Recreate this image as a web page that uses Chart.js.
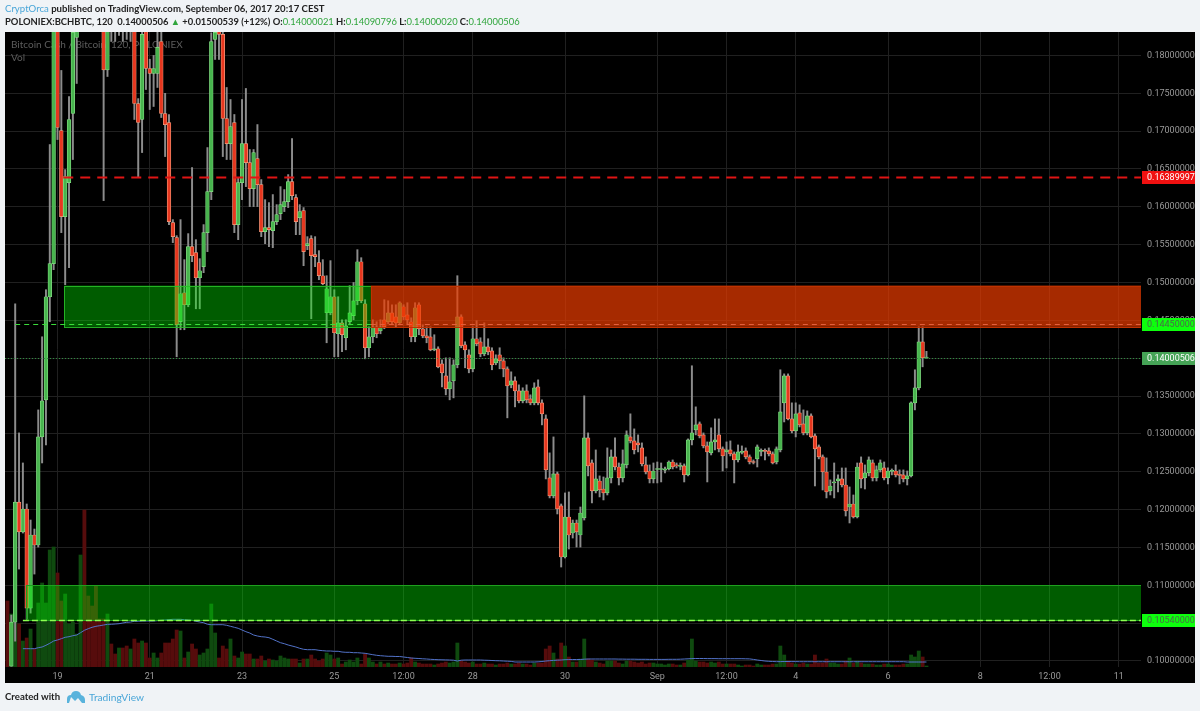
<!DOCTYPE html>
<html><head><meta charset="utf-8">
<style>
html,body{margin:0;padding:0;background:#f0f3f6;width:1200px;height:711px;overflow:hidden}
canvas{position:absolute;left:0;top:0}
.t{position:absolute;white-space:pre;font-family:Lato,sans-serif;color:#222}
.b{color:#4aa6d8}.g{color:#2fa53c}
</style></head><body>
<canvas id="c" width="1200" height="711"></canvas>
<div class="t" style="left:5px;top:1px;font-size:9.6px;line-height:16px;font-weight:700"><span class="b" style="font-weight:400">CryptOrca</span> published on TradingView.com, September 06, 2017 20:17 CEST</div>
<div class="t" style="left:5px;top:14px;font-size:9.4px;line-height:16px;font-weight:700">POLONIEX:BCHBTC, 120  0.14000506 <span class="g">▲</span> +0.01500539 (+12%) O:<span class="g" style="font-weight:400">0.14000021</span> H:<span class="g" style="font-weight:400">0.14090796</span> L:<span class="g" style="font-weight:400">0.14000020</span> C:<span class="g" style="font-weight:400">0.14000506</span></div>
<div class="t" style="left:5px;top:689px;font-size:9.6px;line-height:16px;font-weight:700">Created with</div>
<svg style="position:absolute;left:66px;top:690px" width="20" height="14" viewBox="0 0 20 14"><path d="M1 13 L1 9 Q1 5 5 5 Q6 1 10 1 Q14 1 15 5 Q19 6 19 10 L19 13 L16 13 L12 8 L9 11 L5 7 L3 13 Z" fill="#59b3dc"/></svg>
<div class="t b" style="left:89px;top:689px;font-size:10.2px;line-height:16px">TradingView</div>
<script src="https://cdn.jsdelivr.net/npm/chart.js@4"></script>
<script>
// Candle index 0 = 19 Aug 00:00, one candle per 2 hours. Prices in thousandths of BTC.
const firstIndex=-13;
const opens=[null,99.3,105.13,121,117.04,120.08,106.98,116.64,115.32,129.6,134.5,148.12,152.49,
184.5,170.08,158.7,163.2,172.33,182.38,184.1,190,187,185,187,190,
187,178.08,188,186,185,188,186,184,
186,173.65,171.54,184,178.28,177.62,177.62,181.85,172.33,171.14,
157.91,155.93,144.82,148.65,147.06,154.74,153.94,150.63,152.09,156.59,
162.01,182.12,184,182.78,171.67,168.36,171.14,157.65,163.2,168.36,
165.85,162.41,166.38,162.94,156.72,157.25,156.86,158.05,159.1,160.03,
160.69,163.33,161.22,158.57,159.5,154.87,155.8,153.68,152.62,150.9,
146,146,148.12,143.23,144.68,142.7,144.82,145.61,147.59,152.75,
147.2,141.38,142.83,144.15,143.62,145.08,144.82,146,145.47,144.68,
146.8,145.74,144.82,142.83,147.06,143.89,142.96,142.83,141.11,141.25,
139.26,137.67,135.95,137.01,139.13,145.47,141.78,140.45,138.6,142.57,
142.17,140.58,141.51,140.98,139.39,140.45,139.66,138.6,136.48,137.01,
135.69,134.37,135.69,134.63,134.1,136.22,134.1,131.98,124.18,121.8,
124.71,120.48,113.73,119.02,116.9,118.23,116.64,118.89,129.47,126.16,
122.46,123.78,122.72,122.2,124.18,126.96,125.63,124.18,125.9,129.6,
129.07,128.81,128.15,125.9,125.1,124.05,125.3,125.3,125.2,125.37,
126.29,125.83,125.7,125.77,124.58,129.21,130.53,131.32,129.87,128.41,
127.49,128.94,129.87,128.02,127.62,127.88,127.35,126.56,127.55,127.75,
126.96,126.29,126.7,127.68,127.75,127.75,127.35,126.29,127.88,134.1,
137.67,131.98,130.4,132.78,131.32,130.13,132.38,129.74,128.28,126.96,
124.97,122.46,123.52,123.78,124.05,123.25,120.34,120.74,119.02,126.16,
124.18,124.84,126.16,124.18,125.24,125.5,124.18,125.04,125.1,124.58,
124.58,124.05,124.45,134.1,136.09,142.17,140.002];
const highs=[null,106.06,147.2,130.13,126.16,120.74,118.62,117.43,133.17,142.83,149.05,168.23,190,
190,178.02,164.92,174.58,190,188,195,196,191,189,190,193,
190,190,190,188,189,190,190,189,
189,174.3,186,186,179.5,180,183.5,185,175,172.2,
158.31,156.19,158.31,153.02,156.46,165.19,155.66,153.15,157.65,167.83,
183,186,186,183.5,175.77,174.18,172.2,163.86,174.18,175.64,
167.57,167.57,170.87,163.6,160.95,160.56,161.62,160.29,162.67,162.28,
164.26,169.02,161.62,160.29,159.9,156.06,156.19,156.06,154.21,153.02,
150.9,152.89,149.05,148.12,145.08,145.08,149.58,150,154.34,153.28,
147.73,144.15,145.08,144.82,145.08,147.73,147.59,147.06,147.06,147.46,
147.06,147.33,145.34,147.33,147.33,144.42,144.15,144.15,143.1,141.51,
139.79,140.05,140.05,139.79,150.9,145.74,142.17,141.11,144.15,144.95,
142.7,144.68,142.57,141.38,140.45,141.38,140.05,138.86,138.2,137.54,
136.48,136.09,136.48,135.16,136.75,137.14,134.5,132.51,127.49,129.6,
124.97,120.74,122.2,122.33,118.62,118.62,120.34,135.03,130.13,126.56,
127.88,124.45,124.31,128.15,127.88,129.47,126.16,127.88,130.4,132.65,
130.66,129.87,128.81,126.96,125.9,126.16,126.29,126.16,125.63,126.43,
126.56,126.16,126.16,126.03,129.34,139,133.57,131.58,130.13,128.94,
130.8,131.98,131.98,128.28,128.94,129.07,127.62,128.54,128.41,128.15,
127.22,126.56,128.54,128.02,128.02,128.15,127.62,128.28,138.47,137.93,
137.93,134.1,134.1,133.84,133.17,133.04,132.65,130,128.54,127.22,
126.83,123.92,126.16,124.58,125.5,125.5,122.99,121.93,126.16,126.96,
125.9,126.96,126.56,125.77,126.56,126.29,125.5,125.37,125.9,125.24,
125.24,125.1,134.23,138.47,144.15,144.15,140.908];
const lows=[null,99.3,102.62,112.14,116.9,105.53,106.32,111.48,115.05,126.16,128.54,144.82,151.69,
168.89,156.59,149.71,151.96,166.25,176.3,184,185,184,184,184,185,
160.82,177.22,181.85,181.85,182.65,181.85,182.12,181.85,
171.54,163.99,167.17,175.5,172.86,173.26,175.77,171.8,166.64,157.65,
155.27,140.19,143.76,143.76,146.8,152.75,146.53,146.53,151.3,154.08,
160.95,179.47,179.47,166.64,166.25,166.25,156.59,155.66,160.95,162.67,
160.03,160.03,160.03,156.06,155.13,154.74,154.6,157.65,158.31,159.37,
159.9,160.95,156.32,156.32,152.22,154.34,145.21,152.09,150.37,149.71,
142.04,145.74,140.19,140.19,140.85,141.11,144.42,145.08,147.06,147.33,
139.92,140.19,142.04,142.7,143.23,143.89,144.55,144.42,144.15,144.42,
145.08,144.42,142.17,142.17,143.1,142.7,142.04,140.98,140.98,138.73,
136.22,135.16,134.5,134.76,138.73,141.38,138.73,138.07,138.2,141.64,
140.19,140.32,140.45,138.47,139.13,138.6,137.54,132.12,136.09,133.57,
134.1,134.1,134.1,133.84,133.84,133.84,131.19,124.05,121.54,121.54,
119.42,112.41,113.6,114.79,116.24,115.05,115.05,118.62,124.45,120.88,
122.2,121.67,121.27,121.93,123.52,125.24,123.25,123.65,125.5,128.81,
127.35,127.62,125.77,124.71,123.52,123.52,123.52,123.65,124.84,125.24,
125.37,125.5,125.24,123.65,124.45,128.54,129.87,129.47,128.15,123.65,
127.22,127.88,127.62,125.1,125.5,127.09,123.52,126.29,127.35,126.7,
126.03,126.03,125.63,127.09,126.56,127.09,126.03,126.03,127.62,131.58,
131.85,130.13,129.6,130.92,129.87,129.87,129.47,123.12,126.7,122.59,
121.54,121.93,121.54,122.33,122.99,119.15,118.23,118.89,118.89,122.86,
122.72,124.45,123.78,123.78,124.97,123.92,123.39,124.58,124.31,123.39,
123.65,123.25,124.31,133.17,135.82,138.86,140];
const closes=[null,105.13,121,117.04,120.08,106.98,116.64,115.32,129.6,134.37,148.12,152.49,184.8,
170.48,158.7,163.99,171.54,183.04,184.1,190,187,185,184.5,184.5,187,
178.08,186,185,185,187,185,184.5,186,
173.65,171.14,182.78,178.28,177.62,178.28,181.06,172.33,170.87,158.05,
156.06,144.42,148.52,147.06,154.74,153.55,150.63,151.56,156.59,162.01,
181.85,183.04,182.78,171.67,168.36,170.61,157.65,163.2,168.36,165.85,
162.41,167.17,162.94,156.72,157.25,156.99,158.05,158.97,160.29,160.69,
163.33,161.48,158.05,159.37,154.08,155.13,153.55,153.41,150.9,149.84,
149.18,148.12,143.36,144.68,143.1,144.29,146,147.59,152.75,147.59,
141.38,142.83,144.15,143.23,144.15,144.15,146,144.82,144.68,147.33,
145.47,145.08,142.83,146.67,143.89,142.96,142.7,141.11,141.25,138.86,
138.07,135.95,136.88,139.13,145.47,141.64,141.11,138.6,142.57,141.91,
140.58,141.51,140.85,139.13,139.92,139.66,138.6,136.35,137.01,135.69,
134.37,135.69,134.5,134.1,136.09,134.1,132.65,125.24,121.8,124.71,
120.08,113.73,119.02,116.64,118.23,117.04,119.55,129.47,125.77,122.46,
124.05,122.59,122.2,124.18,126.96,125.63,124.18,126.03,129.87,129.07,
127.88,128.54,126.03,124.97,124.05,125.1,125.37,125.37,125.37,126.29,
125.63,125.77,125.83,124.58,129.21,130.13,131.19,129.74,128.41,127.62,
128.94,129.21,128.02,127.09,127.88,127.35,126.56,127.62,127.62,126.96,
126.29,126.22,128.28,127.75,127.68,127.35,126.16,128.02,132.91,137.67,
131.98,130.4,132.65,131.19,130.13,132.38,129.6,128.02,126.96,124.97,
122.33,123.12,123.65,124.05,123.25,119.82,120.74,119.02,125.63,124.05,
124.84,126.56,124.18,125.24,126.16,124.18,125.1,125.1,124.58,124.51,
124.05,124.45,134.1,136.09,142.17,140.05,140.005];
const volumes=[66,53,44,43,26,29,38,18,64,84,64,117,120,
94,66,73,43,45,33,112,157,71,61,81,48,
48,53,23,13,19,19,21,18,
28,24,26,24,9,14,9,14,24,24,
28,37,36,9,15,23,18,12,14,18,
63,34,9,21,18,28,11,9,15,13,
13,8,8,11,6,8,7,6,11,9,
8,8,8,4,8,8,12,8,6,8,
14,12,8,9,3,5,7,5,9,3,
13,9,5,3,5,3,4,3,3,4,
3,4,9,5,4,3,3,3,2,3,
4,5,4,5,24,6,5,4,5,3,
3,4,3,3,2,3,3,4,3,3,
4,3,3,2,4,4,4,18,21,14,
8,24,21,10,5,5,8,28,8,7,
5,4,3,6,6,6,4,3,6,6,
5,4,5,3,4,4,3,3,2,3,
3,2,2,4,7,28,6,5,5,4,
5,4,5,3,3,3,3,2,1,2,
2,1,3,2,2,2,3,3,21,12,
6,4,3,3,4,3,3,12,4,4,
8,4,4,3,3,6,9,4,6,4,
3,3,3,2,2,3,3,2,2,2,
3,3,12,10,16,10,1];
const volumeAverage=[null,null,null,null,18.3,18.3,18.3,18.3,19.3,20,21.7,23.7,26,
27,28.3,29.7,30.3,31.3,32,34.3,36.7,38.3,39.7,40.7,41.3,
42,42.7,42.7,43,43.3,44,44.7,45,
45.7,45.7,46,46,46,46,46.3,46.7,47,47.3,
47.7,47.7,47.7,47.3,47,46.7,45.7,45,44.3,42.7,
42.3,42.3,42.3,42.3,41.7,40.7,39.7,38.7,37,35.3,
34,32,31,30.3,30,29.3,27.7,26,24.3,23.3,
22,21,20,18.7,17.7,17.3,17.3,17.3,16.7,16.3,
16,16,15.7,15.7,15,14.7,14.7,14.3,14.3,14,
13.7,13,12.3,11.7,11.3,11,10.7,10.7,10.5,10.5,
10,9.5,9,8.7,8.5,8.2,8,7.7,7.5,7.3,
7.2,7.1,7,6.8,6,6.8,7,7,7,7,
7,6.8,6.7,6.5,6.3,6.2,6,5.8,5.6,5,
5,5,5,5,5,5.2,5.5,6,6.3,6.6,
6.8,7,7.3,7.4,7.5,7.5,7.5,7.8,8,8,
8,8,8,8,8,8,7.9,7.9,7.8,7.8,
7.8,7.7,7.7,7.7,7.6,7.6,7.6,7.6,7.6,7.7,
7.7,7.7,7.8,8,8.2,8.4,8.5,8.5,8.5,8.4,
8.4,8.4,8.3,8.3,8.3,8.3,8.3,8.3,8.3,8.2,
8.1,7.6,7,6.5,6,5.7,5.5,5.3,5.4,5.5,
5.5,5.4,5.4,5.3,5.3,5.3,5.3,5.3,5.3,5.3,
5.3,5.3,5.3,5.3,5.3,5.3,5.3,5.3,5.3,5.3,
5.3,5.3,5.3,5.3,5.3,5.3,5.3,5.3,5.3,5.3,
5.3,5,5,5,5,5,5];
const priceTicks=[100,105,110,115,120,125,130,135,140,145,150,155,160,165,170,175,180];
const timeTickPositions=[0,24,48,72,90,108,132,156,174,192,216,240,258,276];
const timeTickLabels=['19','21','23','25','12:00','28','30','Sep','12:00','4','6','8','12:00','11'];
const levelResist=163.89997, levelPivot=144.5, levelLast=140.00506, levelSupport=105.4;
const zoneUpperTop=149.6, zoneUpperBottom=144.15, zoneLowerTop=110, zoneLowerBottom=105.4;
const zoneSwitchIndex=81.5, zoneUpperStart=1.7, zoneLowerStart=-8.2;
const chartTitle='Bitcoin Cash / Bitcoin, 120, POLONIEX', volumeTitle='Vol';

const idx=opens.map((_,k)=>firstIndex+k);
const up=opens.map((o,k)=>o!==null&&closes[k]>=o);
const has=opens.map(o=>o!==null);
const wicks=idx.map((x,k)=>has[k]?{x,y:[lows[k],highs[k]]}:null).filter(Boolean);
const bodies=(green)=>idx.map((x,k)=>has[k]&&up[k]===green?{x,y:[Math.min(opens[k],closes[k]),Math.max(opens[k],closes[k])]}:null).filter(Boolean);
const vols=(green)=>idx.map((x,k)=>up[k]===green?{x,y:volumes[k]}:null).filter(Boolean);
const ma=idx.map((x,k)=>volumeAverage[k]===null?null:{x,y:volumeAverage[k]}).filter(Boolean);
const font={family:'Roboto, sans-serif',size:9};
function barSet(data,color,th,order,axis,border){return {type:'bar',data,backgroundColor:color,barThickness:th,grouped:false,order,yAxisID:axis,borderWidth:border?0.7:0,borderColor:border||color,borderSkipped:false,minBarLength:1};}

const overlay={id:'overlay',
beforeDraw(c){const g=c.ctx;g.save();g.fillStyle='#000';g.fillRect(5,32,1190,651);g.restore();},
beforeDatasetsDraw(c){const g=c.ctx;g.save();g.fillStyle='#5c5c5c';g.font='10px Lato, sans-serif';g.textAlign='left';g.textBaseline='middle';
 g.fillText(chartTitle,11,45);g.fillText(volumeTitle,11,58);g.restore();},
afterDatasetsDraw(c){
 const g=c.ctx,a=c.chartArea,X=c.scales.x,Y=c.scales.y;
 const px=v=>X.getPixelForValue(v),py=v=>Y.getPixelForValue(v);
 g.save();g.beginPath();g.rect(a.left,a.top,a.right-a.left,a.bottom-a.top);g.clip();
 function zone(x0,x1,t,b,fill,stroke){const l=px(x0),r=Math.min(px(x1),a.right),T=py(t),B=py(b);
  g.fillStyle=fill;g.fillRect(l,T,r-l,B-T);
  g.strokeStyle=stroke;g.lineWidth=1;
  g.strokeRect(Math.round(l)+.5,Math.round(T)+.5,Math.round(r-l),Math.round(B-T));}
 zone(zoneUpperStart,zoneSwitchIndex,zoneUpperTop,zoneUpperBottom,'rgba(0,255,0,0.36)','rgba(40,190,40,0.9)');
 zone(zoneSwitchIndex,X.max,zoneUpperTop,zoneUpperBottom,'rgba(236,60,0,0.7)','rgba(190,50,0,1)');
 zone(zoneLowerStart,X.max+1,zoneLowerTop,zoneLowerBottom,'rgba(0,255,0,0.36)','rgba(30,160,30,1)');
 function line(x0,x1,v,color,dash,w){const y=Math.round(py(v))+.5;g.strokeStyle=color;g.setLineDash(dash);g.lineWidth=w;g.beginPath();g.moveTo(px(x0),y);g.lineTo(Math.min(px(x1),a.right),y);g.stroke();g.setLineDash([]);}
 line(1.5,X.max,levelResist,'#e01414',[10,7],2);
 line(-11,zoneSwitchIndex,levelPivot,'#3bdc3b',[5,4],1);
 line(zoneSwitchIndex,X.max,levelPivot,'#e2603c',[5,4],1);
 line(X.min,X.max,levelLast,'#2f8f40',[1,2],1);
 line(-9,X.max,levelSupport,'#8cff50',[6,3],1.5);
 g.restore();
},
afterDraw(c){
 const g=c.ctx,Y=c.scales.y;
 [[levelResist,'#f01010','#fff'],[levelPivot,'#0dff0d','#4a6a4a'],[levelLast,'#45a356','#fff'],[levelSupport,'#0dff0d','#4a6a4a']].forEach(([v,bg,fg])=>{
  const y=Y.getPixelForValue(v);
  g.fillStyle=bg;g.fillRect(1142,Math.round(y)-6,53,13);
  g.fillStyle=fg;g.font='9px Roboto, sans-serif';g.textAlign='left';g.textBaseline='middle';
  g.fillText((v/1000).toFixed(8),1147,Math.round(y)+.5);
 });
}};

new Chart(document.getElementById('c'),{
 type:'bar',
 data:{datasets:[
  barSet(vols(true),'#0f4a0f',3.2,9,'v'),
  barSet(vols(false),'#560c0c',3.2,9,'v'),
  {type:'line',data:ma,borderColor:'#5272c8',borderWidth:1,pointRadius:0,tension:0,order:8,yAxisID:'v'},
  barSet(wicks,'#8c8c8c',1.3,5,'y'),
  barSet(bodies(true),'#48b44e',3.7,3,'y','#86df86'),
  barSet(bodies(false),'#e6371f',3.7,3,'y','#f4a080')
 ]},
 options:{
  responsive:false,animation:false,devicePixelRatio:1,
  layout:{padding:{left:5,top:32,right:5,bottom:28}},
  plugins:{legend:{display:false},tooltip:{enabled:false}},
  scales:{
   x:{type:'linear',offset:false,min:-13.65,max:281.8,
    grid:{color:'#202020',offset:false,drawTicks:false},border:{display:false},
    afterBuildTicks(s){s.ticks=timeTickPositions.map(v=>({value:v}));},
    afterFit(s){s.height=16;},
    ticks:{color:'#9a9a9a',font,padding:4,autoSkip:false,maxRotation:0,callback:(v,i)=>timeTickLabels[i]}},
   y:{type:'linear',position:'right',min:99.2,max:183.1,
    grid:{color:'#202020',drawTicks:false},border:{display:false},
    afterBuildTicks(s){s.ticks=priceTicks.map(v=>({value:v}));},
    afterFit(s){s.width=54;},
    ticks:{color:'#9a9a9a',font,padding:6,callback:v=>(v/1000).toFixed(8)}},
   v:{type:'linear',display:false,min:0,max:635}
  }
 },
 plugins:[overlay]
});
</script>
</body></html>
